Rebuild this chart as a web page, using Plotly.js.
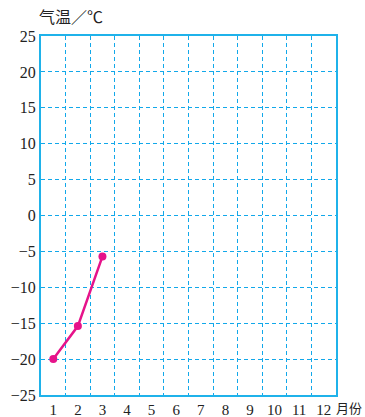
<!DOCTYPE html>
<html><head><meta charset="utf-8">
<script src="https://cdn.plot.ly/plotly-3.0.1.min.js"></script>
<style>html,body{margin:0;padding:0;background:#fff}#c{width:365px;height:417px}</style>
</head><body><div id="c"></div>
<script>
var months = [1, 2, 3];
var temps = [-20, -15.4, -5.7];
var xTickVals = [1,2,3,4,5,6,7,8,9,10,11,12];
var xTickText = ['1','2','3','4','5','6','7','8','9','10','11','12'];
var yTickVals = [-25,-20,-15,-10,-5,0,5,10,15,20,25];
var yTickText = ['\u221225','\u221220','\u221215','\u221210','\u22125','0','5','10','15','20','25'];
var xGridVals = [1.5,2.5,3.5,4.5,5.5,6.5,7.5,8.5,9.5,10.5,11.5];
var yTitle = '气温／℃';
var xTitle = '月份';

var cyan = '#1fb2ea';
var grid = '#12a8ea';
var xTickFont = {family: "'Liberation Serif', 'Times New Roman', serif", size: 15, color: '#222'};
var yTickFont = {family: "'Liberation Serif', 'Times New Roman', serif", size: 16, color: '#222'};

Plotly.newPlot('c', [{
  x: months, y: temps, type: 'scatter', mode: 'lines+markers',
  line: {color: '#e6138a', width: 2.5},
  marker: {color: '#e6138a', size: 8},
  cliponaxis: false
}], {
  width: 365, height: 417,
  margin: {l: 41, r: 29, t: 36, b: 22},
  paper_bgcolor: '#fff', plot_bgcolor: '#fff',
  showlegend: false,
  xaxis: {
    range: [0.5, 12.5], tickmode: 'array', tickvals: xTickVals, ticktext: xTickText,
    showgrid: false, zeroline: false, showline: true, linecolor: cyan, linewidth: 2, mirror: true,
    ticks: '', tickfont: xTickFont,
    minor: {tickmode: 'array', tickvals: xGridVals, showgrid: true, gridcolor: grid, gridwidth: 1, griddash: '4px,3px', ticks: ''}
  },
  yaxis: {
    range: [-25, 25], tickmode: 'array', tickvals: yTickVals, ticktext: yTickText,
    showgrid: true, gridcolor: grid, gridwidth: 1, griddash: '4px,3px',
    zeroline: false, showline: true, linecolor: cyan, linewidth: 2, mirror: true,
    ticks: '', tickfont: yTickFont
  },
  annotations: [
    {text: yTitle, xref: 'paper', yref: 'paper', x: 0, y: 1, xanchor: 'left', yanchor: 'bottom',
     xshift: -4, yshift: 6, showarrow: false,
     font: {family: "'Noto Sans CJK SC', sans-serif", size: 16, color: '#222'}},
    {text: xTitle, xref: 'paper', yref: 'paper', x: 1, y: 0, xanchor: 'left', yanchor: 'top',
     xshift: -2, yshift: -1, showarrow: false,
     font: {family: "'Noto Sans CJK SC', sans-serif", size: 13, color: '#222'}}
  ]
}, {displayModeBar: false, staticPlot: true});
</script></body></html>
